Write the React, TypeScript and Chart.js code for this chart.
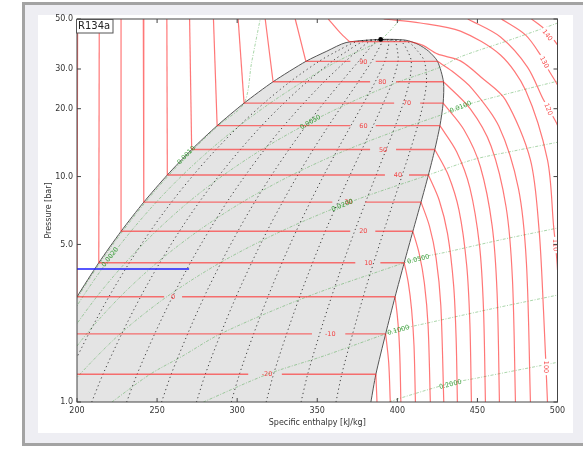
import React, { useEffect, useRef } from "react";
import { Chart, registerables } from "chart.js";

Chart.register(...registerables);
Chart.defaults.font.family = "'DejaVu Sans', sans-serif";

// ---------------- axes ----------------
const X_TICKS = [200, 250, 300, 350, 400, 450, 500];
const Y_TICKS = [1, 5, 10, 20, 30, 50];

// ---------------- saturation dome (h kJ/kg, p bar) ----------------
const LIQ_P = [1.0, 1.327, 2.006, 2.928, 4.146, 5.717, 7.702, 10.166, 13.179, 16.818, 21.168, 26.332, 32.442, 36.0, 39.3];
const LIQ_H = [165.6, 173.6, 186.7, 200.0, 213.6, 227.5, 241.7, 256.4, 271.6, 287.5, 304.3, 322.4, 342.9, 356.0, 368.0];
const CRIT_H = 389.6;
const CRIT_P = 40.59;
const VAP_P = [40.3, 38.6, 36.0, 32.442, 26.332, 21.168, 16.818, 13.179, 10.166, 7.702, 5.717, 4.146, 2.928, 2.006, 1.327, 1.0];
const VAP_H = [405.0, 413.0, 419.5, 425.1, 428.8, 428.6, 426.6, 423.4, 419.4, 414.8, 409.7, 404.3, 398.6, 392.7, 386.6, 383.5];

// ---------------- vapour quality lines ----------------
const QUAL_P = [1.0, 1.327, 2.006, 2.928, 4.146, 5.717, 7.702, 10.166, 13.179, 16.818, 21.168, 26.332, 32.442, 36.0, 39.72, 40.59];
const Q10_H = [187.4, 194.9, 207.3, 219.9, 232.7, 245.7, 259.0, 272.7, 286.8, 301.4, 316.7, 333.0, 351.1, 362.3, 374.9, 389.6];
const Q20_H = [209.2, 216.2, 227.9, 239.7, 251.7, 263.9, 276.3, 289.0, 302.0, 315.3, 329.2, 343.7, 359.3, 368.6, 378.8, 389.6];
const Q30_H = [231.0, 237.5, 248.5, 259.6, 270.8, 282.2, 293.6, 305.3, 317.1, 329.2, 341.6, 354.3, 367.6, 374.9, 382.7, 389.6];
const Q40_H = [252.8, 258.8, 269.1, 279.4, 289.9, 300.4, 310.9, 321.6, 332.3, 343.1, 354.0, 365.0, 375.8, 381.2, 386.6, 389.6];
const Q50_H = [274.6, 280.1, 289.7, 299.3, 309.0, 318.6, 328.3, 337.9, 347.5, 357.1, 366.5, 375.6, 384.0, 387.5, 390.5, 389.6];
const Q60_H = [296.3, 301.4, 310.3, 319.2, 328.0, 336.8, 345.6, 354.2, 362.7, 371.0, 378.9, 386.2, 392.2, 393.8, 394.4, 389.6];
const Q70_H = [318.1, 322.7, 330.9, 339.0, 347.1, 355.0, 362.9, 370.5, 377.9, 384.9, 391.3, 396.9, 400.4, 400.1, 398.3, 389.6];
const Q80_H = [339.9, 344.0, 351.5, 358.9, 366.2, 373.3, 380.2, 386.8, 393.0, 398.8, 403.7, 407.5, 408.7, 406.4, 402.2, 389.6];
const Q90_H = [361.7, 365.3, 372.1, 378.7, 385.2, 391.5, 397.5, 403.1, 408.2, 412.7, 416.2, 418.2, 416.9, 412.7, 406.1, 389.6];

// ---------------- isotherms (°C) ----------------
const ISO_T = [-20, -10, 0, 10, 20, 30, 40, 50, 60, 70, 80, 90];
const ISO_PSAT = [1.327, 2.006, 2.928, 4.146, 5.717, 7.702, 10.166, 13.179, 16.818, 21.168, 26.332, 32.442];
const ISO_HL = [173.6, 186.7, 200.0, 213.6, 227.5, 241.7, 256.4, 271.6, 287.5, 304.3, 322.4, 342.9];
const ISO_HV = [386.6, 392.7, 398.6, 404.3, 409.7, 414.8, 419.4, 423.4, 426.6, 428.6, 428.8, 425.1];
const LIQ_TOP_H = [173.8, 186.9, 200.4, 213.9, 227.5, 241.4, 256.1, 270.3, 285.2, 300.6, 317.5, 336.25];
const ISO_LABEL_H = [318.6, 358.1, 260.0, 381.9, 378.75, 369.4, 400.4, 391.1, 378.8, 406.1, 390.6, 378.75];
const GAP_START_H = [306.9, 346.7, 254.4, 373.75, 370.6, 359.4, 392.25, 383.0, 370.7, 398.0, 383.0, 370.7];
const GAP_END_H = [327.9, 367.5, 265.6, 389.4, 386.25, 380.0, 407.3, 399.2, 386.5, 414.25, 399.2, 386.5];

const SH_M20 = [[386.6, 1.327], [387.3, 1.0]];
const SH_M10 = [[392.7, 2.006], [394.6, 1.5], [395.6, 1.0]];
const SH_0 = [[398.6, 2.928], [399.9, 2.446], [401.0, 1.964], [401.7, 1.482], [402.2, 1.0]];
const SH_10 = [[404.3, 4.146], [406.9, 3.36], [408.9, 2.573], [410.4, 1.787], [411.3, 1.0]];
const SH_20 = [[409.7, 5.717], [413.7, 4.54], [416.9, 3.36], [419.2, 2.18], [420.6, 1.0]];
const SH_30 = [[414.8, 7.702], [420.05, 6.03], [424.2, 4.35], [427.15, 2.68], [429.0, 1.0]];
const SH_40 = [[419.4, 10.166], [426.1, 7.87], [431.35, 5.58], [435.15, 3.29], [436.7, 1.92], [437.5, 1.0]];
const SH_50 = [[423.4, 13.179], [431.85, 10.13], [438.5, 7.09], [443.3, 4.04], [445.3, 2.22], [446.25, 1.0]];
const SH_60 = [[426.6, 16.818], [437.1, 12.86], [445.3, 8.91], [451.3, 4.95], [453.8, 2.58], [455.0, 1.0]];
const SH_70 = [[428.6, 21.168], [441.6, 16.13], [451.8, 11.08], [459.2, 6.04], [462.3, 3.02], [463.75, 1.0]];
const SH_80 = [[428.8, 26.332], [445.45, 20.0], [458.5, 13.67], [467.9, 7.33], [471.85, 3.53], [473.75, 1.0]];
const SH_90 = [[425.1, 32.442], [434.3, 29.3], [446.6, 24.58], [463.4, 16.72], [475.6, 8.86], [480.6, 4.14], [483.1, 1.0]];
const LIQ_100 = [[356.9, 50.0], [364.4, 43.4], [370.0, 39.72]];
const TP_100 = [[370.0, 39.72], [408.0, 39.72]];
const SH_100 = [[408.0, 39.72], [416.0, 38.2], [425.0, 35.0], [439.4, 32.6], [453.1, 27.3], [467.5, 21.9], [483.1, 11.85], [488.5, 5.8], [491.25, 2.56], [493.75, 1.0]];
const SH_110 = [[391.5, 50.0], [414.4, 48.0], [439.4, 44.2], [464.4, 34.6], [480.0, 24.2], [493.75, 11.85], [497.5, 6.1], [500.0, 3.85], [501.9, 1.0]];
const SH_120 = [[444.0, 50.0], [464.4, 41.6], [481.25, 30.6], [491.25, 21.9], [500.0, 16.9], [505.6, 13.1]];
const SH_130 = [[465.0, 50.0], [480.0, 42.5], [489.4, 34.6], [494.4, 29.7], [500.0, 25.5], [506.0, 21.0]];
const SH_140 = [[483.75, 50.0], [492.5, 44.7], [500.0, 38.4], [505.6, 32.9]];

const SH_LABEL_T = [100, 110, 120, 130, 140];
const SH_LABEL_H = [492.8, 498.75, 494.4, 491.9, 493.75];
const SH_LABEL_P = [1.43, 4.97, 19.9, 32.2, 42.5];
const SH_LABEL_ROT = [90, 87, 68, 62, 51];

// ---------------- isochores (m³/kg) ----------------
const V0010 = [[165.9, 1.0], [174.0, 1.327], [187.2, 2.006], [200.66, 2.928], [214.4, 4.146], [228.45, 5.717], [242.76, 7.702], [257.5, 10.166], [272.6, 13.179], [288.15, 16.818], [304.3, 21.168], [309.0, 32.0], [314.4, 50.0]];
const V0020 = [[167.05, 1.0], [175.4, 1.327], [189.3, 2.006], [203.58, 2.928], [218.35, 4.146], [233.66, 5.717], [249.5, 7.702], [266.0, 10.166], [283.3, 13.179], [301.5, 16.818], [320.6, 21.168], [340.9, 26.332], [362.5, 32.442], [388.2, 39.72], [395.0, 44.0], [402.0, 50.0]];
const V0050 = [[170.5, 1.0], [179.8, 1.327], [195.6, 2.006], [212.3, 2.928], [230.2, 4.146], [249.3, 5.717], [269.6, 7.702], [291.6, 10.166], [315.4, 13.179], [341.4, 16.818], [369.7, 21.168], [400.9, 26.332], [426.5, 30.5], [439.0, 33.9], [470.0, 40.3], [500.0, 48.0], [506.0, 50.5]];
const V0100 = [[176.2, 1.0], [187.15, 1.327], [206.0, 2.006], [226.9, 2.928], [249.9, 4.146], [275.3, 5.717], [303.2, 7.702], [334.2, 10.166], [368.9, 13.179], [408.0, 16.818], [427.6, 18.8], [439.4, 20.4], [456.25, 22.1], [500.0, 26.5]];
const V0200 = [[187.6, 1.0], [201.8, 1.327], [226.9, 2.006], [256.0, 2.928], [289.3, 4.146], [327.4, 5.717], [370.4, 7.702], [419.4, 10.166], [447.5, 11.9], [473.0, 13.0], [500.0, 14.2]];
const V0500 = [[221.8, 1.0], [245.6, 1.327], [266.0, 1.6], [289.6, 2.006], [343.5, 2.928], [404.3, 4.146], [413.0, 4.35], [431.0, 4.63], [465.0, 5.25], [500.0, 5.91]];
const V1000 = [[278.9, 1.0], [318.8, 1.327], [354.0, 1.6], [392.7, 2.006], [400.0, 2.09], [418.75, 2.24], [460.0, 2.6], [500.0, 2.98]];
const V2000 = [[395.0, 1.0], [402.0, 1.041], [433.0, 1.21], [450.0, 1.278], [500.0, 1.5]];

const VOL_LABELS = ["0.0010", "0.0020", "0.0050", "0.0100", "0.0200", "0.0500", "0.1000", "0.2000"];
const VOL_LABEL_H = [268.1, 220.5, 345.6, 439.4, 365.6, 413.1, 400.6, 433.1];
const VOL_LABEL_P = [12.47, 4.4, 17.47, 20.4, 7.48, 4.31, 2.09, 1.2];
const VOL_LABEL_ROT = [-46, -52, -30, -22, -23, -14, -15, -14];

// ---------------- process line ----------------
const PROCESS_LINE = [[200.0, 3.89], [270.0, 3.89]];

// ---------------- styles ----------------
const RED = "rgba(255,35,35,0.62)";
const RED_TEXT = "rgba(245,40,40,0.85)";
const GREEN = "rgba(60,160,60,0.55)";
const GREEN_TEXT = "rgba(40,150,40,0.9)";
const DOTS = "rgba(25,25,25,0.8)";

const pairs = (a: number[][]) => a.map(([x, y]) => ({ x, y }));
const cols = (hs: number[], ps: number[]) => hs.map((h, i) => ({ x: h, y: ps[i] }));

function lineDs(data: any[], color: string, width: number, extra: any = {}) {
  return {
    data,
    showLine: true,
    borderColor: color,
    backgroundColor: color,
    borderWidth: width,
    pointRadius: 0,
    pointHoverRadius: 0,
    tension: 0,
    fill: false,
    clip: 0,
    capBezierPoints: false,
    ...extra,
  };
}

function buildDatasets() {
  const ds: any[] = [];
  // dome
  ds.push(
    lineDs(
      [...cols(LIQ_H, LIQ_P), { x: CRIT_H, y: CRIT_P }, ...cols(VAP_H, VAP_P)],
      "#555555",
      1,
      { fill: "shape", backgroundColor: "#e4e4e4", tension: 0.25, order: 10 }
    )
  );
  // isochores
  [V0010, V0020, V0050, V0100, V0200, V0500, V1000, V2000].forEach((v) =>
    ds.push(lineDs(pairs(v), GREEN, 0.8, { borderDash: [3, 1.5, 1, 1.5], tension: 0.3, order: 8 }))
  );
  // quality lines
  [Q10_H, Q20_H, Q30_H, Q40_H, Q50_H, Q60_H, Q70_H, Q80_H, Q90_H].forEach((q) =>
    ds.push(lineDs(cols(q, QUAL_P), DOTS, 1, { borderDash: [1.2, 3], tension: 0.3, order: 7 }))
  );
  // isotherms
  const SH = [SH_M20, SH_M10, SH_0, SH_10, SH_20, SH_30, SH_40, SH_50, SH_60, SH_70, SH_80, SH_90];
  ISO_T.forEach((_, i) => {
    const p = ISO_PSAT[i];
    ds.push(lineDs([{ x: LIQ_TOP_H[i], y: 50 }, { x: ISO_HL[i], y: p }], RED, 1.2, { order: 5 }));
    ds.push(lineDs([{ x: ISO_HL[i], y: p }, { x: GAP_START_H[i], y: p }], RED, 1.4, { order: 5 }));
    ds.push(lineDs([{ x: GAP_END_H[i], y: p }, { x: ISO_HV[i], y: p }], RED, 1.4, { order: 5 }));
    ds.push(lineDs(pairs(SH[i]), RED, 1.2, { tension: 0.3, order: 5 }));
  });
  ds.push(lineDs(pairs(LIQ_100), RED, 1.2, { tension: 0.3, order: 5 }));
  ds.push(lineDs(pairs(TP_100), RED, 1.2, { order: 5 }));
  [SH_100, SH_110, SH_120, SH_130, SH_140].forEach((c) =>
    ds.push(lineDs(pairs(c), RED, 1.2, { tension: 0.3, order: 5 }))
  );
  // process line
  ds.push(lineDs(pairs(PROCESS_LINE), "#1f1fff", 1.6, { order: 2 }));
  // critical point
  ds.push({
    data: [{ x: CRIT_H, y: CRIT_P }],
    showLine: false,
    pointRadius: 2.4,
    pointBackgroundColor: "#000",
    pointBorderColor: "#000",
    pointBorderWidth: 0,
    order: 1,
  });
  return ds;
}

const overlayPlugin = {
  id: "overlay",
  afterDatasetsDraw(chart: any) {
    const { ctx, chartArea: a, scales } = chart;
    const px = (h: number) => scales.x.getPixelForValue(h);
    const py = (p: number) => scales.y.getPixelForValue(p);

    ctx.save();
    ctx.beginPath();
    ctx.rect(a.left, a.top, a.right - a.left, a.bottom - a.top);
    ctx.clip();
    ctx.textAlign = "center";
    ctx.textBaseline = "middle";

    // two-phase temperature labels
    ctx.font = "6.5px 'DejaVu Sans'";
    ctx.fillStyle = RED_TEXT;
    ISO_T.forEach((t, i) => ctx.fillText(String(t), px(ISO_LABEL_H[i]), py(ISO_PSAT[i]) + 0.5));

    // superheated temperature labels
    SH_LABEL_T.forEach((t, i) => {
      ctx.save();
      ctx.translate(px(SH_LABEL_H[i]), py(SH_LABEL_P[i]));
      ctx.rotate((SH_LABEL_ROT[i] * Math.PI) / 180);
      const w = ctx.measureText(String(t)).width;
      ctx.fillStyle = "#ffffff";
      ctx.fillRect(-w / 2 - 2, -4.5, w + 4, 9);
      ctx.fillStyle = RED_TEXT;
      ctx.fillText(String(t), 0, 0.5);
      ctx.restore();
    });

    // isochore labels
    ctx.fillStyle = GREEN_TEXT;
    VOL_LABELS.forEach((s, i) => {
      ctx.save();
      ctx.translate(px(VOL_LABEL_H[i]), py(VOL_LABEL_P[i]));
      ctx.rotate((VOL_LABEL_ROT[i] * Math.PI) / 180);
      ctx.fillText(s, 0, 0.5);
      ctx.restore();
    });
    ctx.restore();

    // frame
    ctx.save();
    ctx.strokeStyle = "#444";
    ctx.lineWidth = 1;
    ctx.strokeRect(a.left, a.top, a.right - a.left, a.bottom - a.top);
    // inward ticks on all four sides
    ctx.beginPath();
    X_TICKS.forEach((v) => {
      const x = px(v);
      ctx.moveTo(x, a.bottom);
      ctx.lineTo(x, a.bottom - 4);
      ctx.moveTo(x, a.top);
      ctx.lineTo(x, a.top + 4);
    });
    Y_TICKS.forEach((v) => {
      const y = py(v);
      ctx.moveTo(a.left, y);
      ctx.lineTo(a.left + 4, y);
      ctx.moveTo(a.right, y);
      ctx.lineTo(a.right - 4, y);
    });
    ctx.stroke();

    // fluid name box
    const bx = a.left - 1;
    const by = a.top;
    ctx.fillStyle = "#ffffff";
    ctx.fillRect(bx, by, 37, 14);
    ctx.strokeStyle = "#555";
    ctx.strokeRect(bx + 0.5, by + 0.5, 36.5, 13.5);
    ctx.fillStyle = "#222";
    ctx.font = "10px 'DejaVu Sans'";
    ctx.textAlign = "left";
    ctx.textBaseline = "middle";
    ctx.fillText("R134a", bx + 2, by + 7.5);
    ctx.restore();
  },
};

export default function App() {
  const ref = useRef<HTMLCanvasElement | null>(null);

  useEffect(() => {
    if (!ref.current) return;
    const tickFont = { size: 8, family: "'DejaVu Sans'" };
    const chart = new Chart(ref.current, {
      type: "scatter",
      data: { datasets: buildDatasets() },
      options: {
        responsive: false,
        animation: false,
        devicePixelRatio: 1,
        events: [],
        layout: { padding: { left: 40, top: 19, right: 25.5, bottom: 18 } },
        plugins: { legend: { display: false }, tooltip: { enabled: false } },
        scales: {
          x: {
            type: "linear",
            position: "bottom",
            min: 200,
            max: 500,
            afterBuildTicks: (s: any) => {
              s.ticks = X_TICKS.map((v) => ({ value: v }));
            },
            afterFit: (s: any) => {
              s.height = 30;
            },
            grid: { display: false, drawTicks: false },
            border: { display: false },
            ticks: {
              padding: 4,
              color: "#333",
              font: tickFont,
              autoSkip: false,
              maxRotation: 0,
              callback: (v: any) => String(v),
            },
            title: {
              display: true,
              text: "Specific enthalpy [kJ/kg]",
              color: "#333",
              font: tickFont,
              padding: { top: 4, bottom: 4 },
            },
          },
          y: {
            type: "logarithmic",
            position: "left",
            min: 1,
            max: 50,
            afterBuildTicks: (s: any) => {
              s.ticks = Y_TICKS.map((v) => ({ value: v }));
            },
            afterFit: (s: any) => {
              s.width = 37;
            },
            grid: { display: false, drawTicks: false },
            border: { display: false },
            ticks: {
              padding: 4,
              color: "#333",
              font: tickFont,
              autoSkip: false,
              callback: (v: any) => Number(v).toFixed(1),
            },
            title: {
              display: true,
              text: "Pressure [bar]",
              color: "#333",
              font: tickFont,
              padding: { top: 4, bottom: 4 },
            },
          },
        },
      } as any,
      plugins: [overlayPlugin],
    } as any);
    return () => chart.destroy();
  }, []);

  return (
    <div
      style={{
        position: "fixed",
        left: 0,
        top: 0,
        width: 583,
        height: 450,
        overflow: "hidden",
        background: "#ffffff",
      }}
    >
      <div
        style={{
          position: "absolute",
          left: 22,
          top: 2,
          width: 600,
          height: 438,
          border: "3px solid #a3a3a3",
          background: "#eeeef3",
        }}
      />
      <div
        style={{
          position: "absolute",
          left: 38,
          top: 15,
          width: 535,
          height: 418,
          background: "#ffffff",
        }}
      />
      <canvas
        ref={ref}
        width={583}
        height={450}
        style={{ position: "absolute", left: 0, top: 0, width: 583, height: 450 }}
      />
    </div>
  );
}
